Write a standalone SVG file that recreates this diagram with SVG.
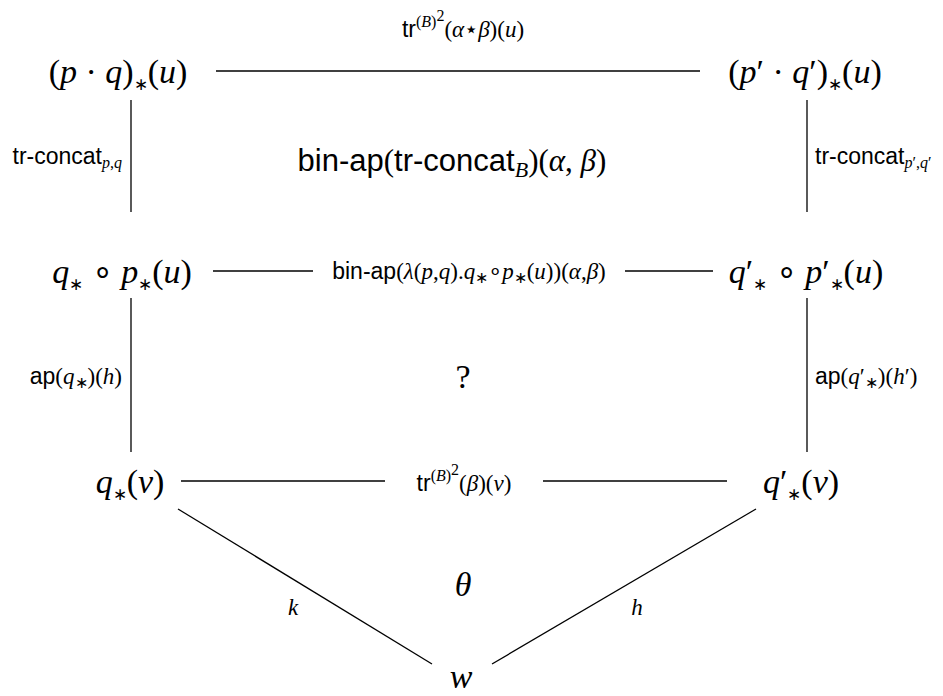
<svg xmlns="http://www.w3.org/2000/svg" width="943" height="696" viewBox="0 0 943 696">
<style>
text{font-family:"Liberation Serif",serif;fill:#000}
.n{font-size:34px}
.l{font-size:23px}
.c{font-size:31px}
.i{font-style:italic}
.s{font-family:"Liberation Sans",sans-serif}
.sub{font-size:16px}
.st{font-size:17px}
line{stroke:#000;stroke-width:1.3}
</style>
<rect width="943" height="696" fill="#fff"/>
<g id="connectors">
<line x1="216" y1="71" x2="700" y2="71"/>
<line x1="131" y1="100" x2="131" y2="212"/>
<line x1="807" y1="100" x2="807" y2="212"/>
<line x1="213" y1="271" x2="313" y2="271"/>
<line x1="625" y1="271" x2="713" y2="271"/>
<line x1="131" y1="298" x2="131" y2="452"/>
<line x1="807" y1="298" x2="807" y2="452"/>
<line x1="181" y1="481" x2="385" y2="481"/>
<line x1="543" y1="481" x2="727" y2="481"/>
<line x1="178" y1="509" x2="432" y2="664"/>
<line x1="756" y1="509" x2="492" y2="664"/>
</g>
<g id="nodeA"><text class="n" x="118" y="83" text-anchor="middle">(<tspan class="i">p</tspan> · <tspan class="i">q</tspan>)<tspan class="st" dy="7">∗</tspan><tspan dy="-7">(</tspan><tspan class="i">u</tspan>)</text></g>
<g id="nodeB"><text class="n" x="805" y="83" text-anchor="middle">(<tspan class="i">p</tspan>′ · <tspan class="i">q</tspan>′)<tspan class="st" dy="7">∗</tspan><tspan dy="-7">(</tspan><tspan class="i">u</tspan>)</text></g>
<g id="nodeC"><text class="n" x="122" y="283" text-anchor="middle"><tspan class="i">q</tspan><tspan class="st" dy="7">∗</tspan><tspan dy="-7"> ∘ </tspan><tspan class="i">p</tspan><tspan class="st" dy="7">∗</tspan><tspan dy="-7">(</tspan><tspan class="i">u</tspan>)</text></g>
<g id="nodeD"><text class="n" x="806" y="283" text-anchor="middle"><tspan class="i">q</tspan>′<tspan class="st" dy="7">∗</tspan><tspan dy="-7"> ∘ </tspan><tspan class="i">p</tspan>′<tspan class="st" dy="7">∗</tspan><tspan dy="-7">(</tspan><tspan class="i">u</tspan>)</text></g>
<g id="nodeE"><text class="n" x="130" y="493" text-anchor="middle"><tspan class="i">q</tspan><tspan class="st" dy="7">∗</tspan><tspan dy="-7">(</tspan><tspan class="i">v</tspan>)</text></g>
<g id="nodeF"><text class="n" x="801" y="493" text-anchor="middle"><tspan class="i">q</tspan>′<tspan class="st" dy="7">∗</tspan><tspan dy="-7">(</tspan><tspan class="i">v</tspan>)</text></g>
<g id="nodeW"><text class="n i" x="461" y="688" text-anchor="middle">w</text></g>
<g id="labels">
<text class="l" x="463" y="37" text-anchor="middle"><tspan class="s">tr</tspan><tspan class="sub" dy="-10">(<tspan class="i">B</tspan>)</tspan><tspan class="sub" dy="-6">2</tspan><tspan dy="16">(</tspan><tspan class="i">α</tspan>⋆<tspan class="i">β</tspan>)(<tspan class="i">u</tspan>)</text>
<text class="l" x="122" y="164" text-anchor="end"><tspan class="s">tr-concat</tspan><tspan class="sub i" dy="4">p</tspan><tspan class="sub">,</tspan><tspan class="sub i">q</tspan></text>
<text class="l" x="815" y="164"><tspan class="s">tr-concat</tspan><tspan class="sub i" dy="4">p</tspan><tspan class="sub">′,</tspan><tspan class="sub i">q</tspan><tspan class="sub">′</tspan></text>
<text class="c" x="452" y="171" text-anchor="middle"><tspan class="s">bin-ap</tspan>(<tspan class="s">tr-concat</tspan><tspan font-size="22" class="i" dy="6">B</tspan><tspan dy="-6">)(</tspan><tspan class="i">α</tspan>, <tspan class="i">β</tspan>)</text>
<text class="l" x="469" y="279" text-anchor="middle"><tspan class="s">bin-ap</tspan>(<tspan class="i">λ</tspan>(<tspan class="i">p</tspan>,<tspan class="i">q</tspan>).<tspan class="i">q</tspan><tspan class="sub" dy="4">∗</tspan><tspan dy="-4">∘</tspan><tspan class="i">p</tspan><tspan class="sub" dy="4">∗</tspan><tspan dy="-4">(</tspan><tspan class="i">u</tspan>))(<tspan class="i">α</tspan>,<tspan class="i">β</tspan>)</text>
<text class="l" x="122" y="384" text-anchor="end"><tspan class="s">ap</tspan>(<tspan class="i">q</tspan><tspan class="sub" dy="4">∗</tspan><tspan dy="-4">)(</tspan><tspan class="i">h</tspan>)</text>
<text class="l" x="815" y="384"><tspan class="s">ap</tspan>(<tspan class="i">q</tspan>′<tspan class="sub" dy="4">∗</tspan><tspan dy="-4">)(</tspan><tspan class="i">h</tspan>′)</text>
<text class="n" x="463" y="388" text-anchor="middle">?</text>
<text class="l" x="464" y="491" text-anchor="middle"><tspan class="s">tr</tspan><tspan class="sub" dy="-10">(<tspan class="i">B</tspan>)</tspan><tspan class="sub" dy="-6">2</tspan><tspan dy="16">(</tspan><tspan class="i">β</tspan>)(<tspan class="i">v</tspan>)</text>
<text class="n i" x="463" y="596" text-anchor="middle">θ</text>
<text class="l i" x="293" y="615" text-anchor="middle">k</text>
<text class="l i" x="637" y="615" text-anchor="middle">h</text>
</g>
</svg>
